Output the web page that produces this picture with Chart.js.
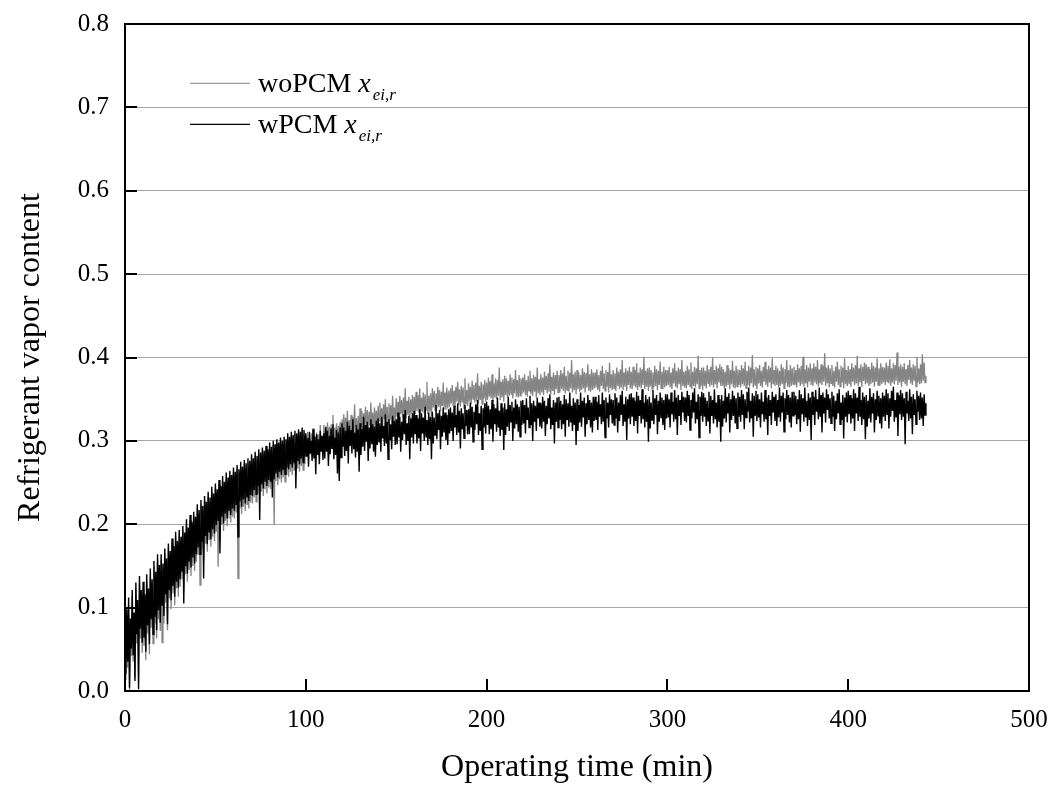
<!DOCTYPE html>
<html>
<head>
<meta charset="utf-8">
<title>Refrigerant vapor content</title>
<script src="https://cdn.jsdelivr.net/npm/chart.js@4.4.1/dist/chart.umd.min.js"></script>
<style>
  html, body { margin: 0; padding: 0; background: #ffffff; }
  #wrap { width: 1056px; height: 787px; }
</style>
</head>
<body>
<div id="wrap"><canvas id="chart" width="1056" height="787"></canvas></div>
<script>
// Sampling interval of the logged vapor content (minutes)
const sampleStepMin = 0.5;

// Refrigerant vapor content at the evaporator inlet, without PCM (one row = 10 min)
const woPCM = [
  0.051, 0.013, 0.088, 0.028, 0.103, 0.000, 0.079, 0.042, 0.114, 0.035, 0.087, 0.016, 0.122, 0.057, 0.101, 0.011, 0.131, 0.063, 0.113, 0.046,
  0.123, 0.054, 0.109, 0.037, 0.133, 0.069, 0.116, 0.044, 0.139, 0.076, 0.126, 0.057, 0.149, 0.081, 0.136, 0.063, 0.156, 0.086, 0.144, 0.072,
  0.157, 0.058, 0.146, 0.081, 0.164, 0.106, 0.153, 0.073, 0.171, 0.111, 0.161, 0.098, 0.178, 0.117, 0.168, 0.103, 0.185, 0.123, 0.175, 0.113,
  0.188, 0.125, 0.180, 0.134, 0.193, 0.119, 0.185, 0.140, 0.200, 0.131, 0.191, 0.145, 0.205, 0.138, 0.197, 0.150, 0.210, 0.144, 0.203, 0.155,
  0.219, 0.163, 0.212, 0.127, 0.224, 0.170, 0.217, 0.156, 0.229, 0.177, 0.222, 0.167, 0.234, 0.182, 0.227, 0.173, 0.239, 0.185, 0.232, 0.180,
  0.244, 0.191, 0.237, 0.149, 0.248, 0.179, 0.241, 0.199, 0.252, 0.192, 0.246, 0.204, 0.256, 0.198, 0.250, 0.207, 0.259, 0.202, 0.254, 0.209,
  0.263, 0.207, 0.258, 0.214, 0.266, 0.135, 0.261, 0.219, 0.269, 0.212, 0.264, 0.221, 0.272, 0.216, 0.267, 0.224, 0.274, 0.219, 0.270, 0.226,
  0.279, 0.225, 0.274, 0.232, 0.282, 0.227, 0.277, 0.237, 0.285, 0.230, 0.281, 0.239, 0.287, 0.234, 0.283, 0.242, 0.289, 0.237, 0.285, 0.244,
  0.293, 0.242, 0.288, 0.249, 0.295, 0.199, 0.291, 0.252, 0.297, 0.247, 0.293, 0.254, 0.299, 0.250, 0.295, 0.256, 0.300, 0.251, 0.297, 0.259,
  0.304, 0.257, 0.300, 0.263, 0.306, 0.259, 0.302, 0.265, 0.308, 0.260, 0.304, 0.267, 0.310, 0.263, 0.306, 0.270, 0.312, 0.265, 0.309, 0.272,
  0.307, 0.289, 0.311, 0.286, 0.304, 0.284, 0.309, 0.291, 0.315, 0.287, 0.306, 0.285, 0.310, 0.290, 0.308, 0.283, 0.319, 0.288, 0.305, 0.286,
  0.319, 0.297, 0.315, 0.294, 0.322, 0.300, 0.317, 0.296, 0.320, 0.298, 0.331, 0.295, 0.316, 0.299, 0.321, 0.294, 0.318, 0.301, 0.323, 0.297,
  0.326, 0.305, 0.332, 0.309, 0.328, 0.307, 0.336, 0.304, 0.325, 0.308, 0.331, 0.306, 0.329, 0.310, 0.344, 0.305, 0.327, 0.308, 0.330, 0.303,
  0.339, 0.316, 0.336, 0.313, 0.333, 0.315, 0.341, 0.317, 0.337, 0.312, 0.335, 0.318, 0.346, 0.314, 0.334, 0.313, 0.340, 0.315, 0.336, 0.317,
  0.342, 0.324, 0.346, 0.321, 0.339, 0.319, 0.344, 0.326, 0.350, 0.322, 0.341, 0.320, 0.345, 0.325, 0.343, 0.318, 0.354, 0.323, 0.340, 0.321,
  0.351, 0.329, 0.347, 0.326, 0.354, 0.332, 0.349, 0.328, 0.352, 0.330, 0.363, 0.327, 0.348, 0.331, 0.353, 0.326, 0.350, 0.333, 0.355, 0.329,
  0.353, 0.332, 0.359, 0.336, 0.355, 0.334, 0.363, 0.331, 0.352, 0.335, 0.358, 0.333, 0.356, 0.337, 0.371, 0.332, 0.354, 0.335, 0.357, 0.330,
  0.363, 0.340, 0.360, 0.337, 0.357, 0.339, 0.365, 0.341, 0.361, 0.336, 0.359, 0.342, 0.370, 0.338, 0.358, 0.337, 0.364, 0.339, 0.360, 0.341,
  0.363, 0.345, 0.367, 0.342, 0.360, 0.340, 0.365, 0.347, 0.371, 0.343, 0.362, 0.341, 0.366, 0.346, 0.364, 0.339, 0.375, 0.344, 0.361, 0.342,
  0.369, 0.347, 0.365, 0.344, 0.372, 0.350, 0.367, 0.346, 0.370, 0.348, 0.381, 0.345, 0.366, 0.349, 0.371, 0.344, 0.368, 0.351, 0.373, 0.347,
  0.370, 0.349, 0.376, 0.353, 0.372, 0.351, 0.380, 0.348, 0.369, 0.352, 0.375, 0.350, 0.373, 0.354, 0.388, 0.349, 0.371, 0.352, 0.374, 0.347,
  0.378, 0.355, 0.375, 0.352, 0.372, 0.354, 0.380, 0.356, 0.376, 0.351, 0.374, 0.357, 0.385, 0.353, 0.373, 0.352, 0.379, 0.354, 0.375, 0.356,
  0.376, 0.358, 0.380, 0.355, 0.373, 0.353, 0.378, 0.360, 0.384, 0.356, 0.375, 0.354, 0.379, 0.359, 0.377, 0.352, 0.388, 0.357, 0.374, 0.355,
  0.380, 0.358, 0.376, 0.355, 0.383, 0.361, 0.378, 0.357, 0.381, 0.359, 0.392, 0.356, 0.377, 0.360, 0.382, 0.355, 0.379, 0.362, 0.384, 0.358,
  0.379, 0.358, 0.385, 0.362, 0.381, 0.360, 0.389, 0.357, 0.378, 0.361, 0.384, 0.359, 0.382, 0.363, 0.397, 0.358, 0.380, 0.361, 0.383, 0.356,
  0.385, 0.362, 0.382, 0.359, 0.379, 0.361, 0.387, 0.363, 0.383, 0.358, 0.381, 0.364, 0.392, 0.360, 0.380, 0.359, 0.386, 0.361, 0.382, 0.363,
  0.382, 0.364, 0.386, 0.361, 0.379, 0.359, 0.384, 0.366, 0.390, 0.362, 0.381, 0.360, 0.385, 0.365, 0.383, 0.358, 0.394, 0.363, 0.380, 0.361,
  0.385, 0.363, 0.381, 0.360, 0.388, 0.366, 0.383, 0.362, 0.386, 0.364, 0.397, 0.361, 0.382, 0.365, 0.387, 0.360, 0.384, 0.367, 0.389, 0.363,
  0.383, 0.362, 0.389, 0.366, 0.385, 0.364, 0.393, 0.361, 0.382, 0.365, 0.388, 0.363, 0.386, 0.367, 0.401, 0.362, 0.384, 0.365, 0.387, 0.360,
  0.388, 0.365, 0.385, 0.362, 0.382, 0.364, 0.390, 0.366, 0.386, 0.361, 0.384, 0.367, 0.395, 0.363, 0.383, 0.362, 0.389, 0.364, 0.385, 0.366,
  0.385, 0.367, 0.389, 0.364, 0.382, 0.362, 0.387, 0.369, 0.393, 0.365, 0.384, 0.363, 0.388, 0.368, 0.386, 0.361, 0.397, 0.366, 0.383, 0.364,
  0.384, 0.363, 0.390, 0.367, 0.386, 0.365, 0.394, 0.362, 0.383, 0.366, 0.389, 0.364, 0.387, 0.368, 0.402, 0.363, 0.385, 0.366, 0.388, 0.361,
  0.388, 0.366, 0.384, 0.363, 0.391, 0.369, 0.386, 0.365, 0.389, 0.367, 0.400, 0.364, 0.385, 0.368, 0.390, 0.363, 0.387, 0.370, 0.392, 0.366,
  0.389, 0.366, 0.386, 0.363, 0.383, 0.365, 0.391, 0.367, 0.387, 0.362, 0.385, 0.368, 0.396, 0.364, 0.384, 0.363, 0.390, 0.365, 0.386, 0.367,
  0.385, 0.364, 0.391, 0.368, 0.387, 0.366, 0.395, 0.363, 0.384, 0.367, 0.390, 0.365, 0.388, 0.369, 0.403, 0.364, 0.386, 0.367, 0.389, 0.362,
  0.387, 0.369, 0.391, 0.366, 0.384, 0.364, 0.389, 0.371, 0.395, 0.367, 0.386, 0.365, 0.390, 0.370, 0.388, 0.363, 0.399, 0.368, 0.385, 0.366,
  0.390, 0.367, 0.387, 0.364, 0.384, 0.366, 0.392, 0.368, 0.388, 0.363, 0.386, 0.369, 0.397, 0.365, 0.385, 0.364, 0.391, 0.366, 0.387, 0.368,
  0.389, 0.367, 0.385, 0.364, 0.392, 0.370, 0.387, 0.366, 0.390, 0.368, 0.401, 0.365, 0.386, 0.369, 0.391, 0.364, 0.388, 0.371, 0.393, 0.367,
  0.387, 0.366, 0.393, 0.370, 0.389, 0.368, 0.397, 0.365, 0.386, 0.369, 0.392, 0.367, 0.390, 0.371, 0.405, 0.366, 0.388, 0.369, 0.391, 0.364,
  0.387, 0.369, 0.391, 0.366, 0.384, 0.364, 0.389, 0.371, 0.395, 0.367, 0.386, 0.365, 0.390, 0.370, 0.388, 0.363, 0.399, 0.368, 0.385, 0.366,
  0.390, 0.368, 0.386, 0.365, 0.393, 0.371, 0.388, 0.367, 0.391, 0.369, 0.402, 0.366, 0.387, 0.370, 0.392, 0.365, 0.389, 0.372, 0.394, 0.368,
  0.392, 0.369, 0.389, 0.366, 0.386, 0.368, 0.394, 0.370, 0.390, 0.365, 0.388, 0.371, 0.399, 0.367, 0.387, 0.366, 0.393, 0.368, 0.389, 0.370,
  0.388, 0.367, 0.394, 0.371, 0.390, 0.369, 0.398, 0.366, 0.387, 0.370, 0.393, 0.368, 0.391, 0.372, 0.406, 0.367, 0.389, 0.370, 0.392, 0.365,
  0.389, 0.371, 0.393, 0.368, 0.386, 0.366, 0.391, 0.373, 0.397, 0.369, 0.388, 0.367, 0.392, 0.372, 0.390, 0.365, 0.401, 0.370, 0.387, 0.368,
  0.392, 0.369, 0.404, 0.372, 0.394, 0.370, 0.378
];

// Refrigerant vapor content at the evaporator inlet, with PCM (one row = 10 min)
const wPCM = [
  0.062, 0.021, 0.098, 0.035, 0.112, 0.004, 0.087, 0.051, 0.121, 0.043, 0.094, 0.012, 0.130, 0.068, 0.109, 0.002, 0.138, 0.075, 0.121, 0.058,
  0.131, 0.064, 0.116, 0.047, 0.140, 0.079, 0.123, 0.056, 0.147, 0.086, 0.134, 0.068, 0.156, 0.089, 0.143, 0.073, 0.164, 0.097, 0.151, 0.082,
  0.164, 0.103, 0.153, 0.090, 0.171, 0.116, 0.159, 0.080, 0.177, 0.121, 0.168, 0.109, 0.183, 0.126, 0.174, 0.113, 0.191, 0.131, 0.180, 0.124,
  0.193, 0.134, 0.185, 0.143, 0.198, 0.105, 0.190, 0.150, 0.206, 0.141, 0.196, 0.155, 0.211, 0.148, 0.203, 0.160, 0.215, 0.153, 0.209, 0.164,
  0.224, 0.172, 0.217, 0.164, 0.229, 0.179, 0.222, 0.135, 0.234, 0.186, 0.227, 0.176, 0.239, 0.191, 0.232, 0.182, 0.245, 0.194, 0.237, 0.189,
  0.249, 0.199, 0.242, 0.204, 0.253, 0.165, 0.246, 0.209, 0.258, 0.201, 0.251, 0.213, 0.262, 0.207, 0.256, 0.216, 0.264, 0.211, 0.259, 0.219,
  0.268, 0.216, 0.263, 0.223, 0.271, 0.185, 0.266, 0.228, 0.275, 0.221, 0.269, 0.230, 0.277, 0.225, 0.273, 0.233, 0.279, 0.228, 0.276, 0.235,
  0.284, 0.234, 0.279, 0.241, 0.287, 0.236, 0.282, 0.246, 0.290, 0.205, 0.286, 0.248, 0.292, 0.243, 0.288, 0.251, 0.294, 0.246, 0.290, 0.253,
  0.298, 0.251, 0.293, 0.232, 0.300, 0.254, 0.296, 0.261, 0.302, 0.256, 0.298, 0.263, 0.304, 0.259, 0.300, 0.265, 0.305, 0.260, 0.302, 0.268,
  0.309, 0.266, 0.305, 0.272, 0.311, 0.268, 0.307, 0.274, 0.312, 0.243, 0.309, 0.276, 0.314, 0.272, 0.311, 0.279, 0.316, 0.274, 0.313, 0.281,
  0.309, 0.281, 0.303, 0.269, 0.311, 0.285, 0.300, 0.276, 0.314, 0.279, 0.305, 0.260, 0.308, 0.283, 0.302, 0.272, 0.312, 0.287, 0.306, 0.277,
  0.309, 0.279, 0.317, 0.287, 0.312, 0.270, 0.306, 0.284, 0.315, 0.291, 0.320, 0.278, 0.304, 0.283, 0.313, 0.261, 0.310, 0.252, 0.316, 0.280,
  0.321, 0.293, 0.316, 0.282, 0.312, 0.288, 0.323, 0.273, 0.318, 0.294, 0.313, 0.285, 0.326, 0.290, 0.310, 0.280, 0.319, 0.287, 0.314, 0.263,
  0.321, 0.283, 0.314, 0.293, 0.329, 0.288, 0.319, 0.299, 0.323, 0.276, 0.316, 0.291, 0.326, 0.296, 0.320, 0.287, 0.317, 0.281, 0.324, 0.295,
  0.327, 0.299, 0.321, 0.287, 0.329, 0.303, 0.318, 0.294, 0.332, 0.297, 0.323, 0.278, 0.326, 0.301, 0.320, 0.290, 0.330, 0.305, 0.324, 0.295,
  0.326, 0.296, 0.334, 0.304, 0.329, 0.287, 0.323, 0.301, 0.332, 0.308, 0.337, 0.295, 0.321, 0.300, 0.330, 0.278, 0.327, 0.304, 0.333, 0.297,
  0.336, 0.308, 0.331, 0.297, 0.327, 0.303, 0.338, 0.288, 0.333, 0.309, 0.328, 0.300, 0.341, 0.305, 0.325, 0.295, 0.334, 0.302, 0.329, 0.278,
  0.335, 0.297, 0.328, 0.307, 0.343, 0.302, 0.333, 0.313, 0.337, 0.290, 0.330, 0.305, 0.340, 0.310, 0.334, 0.301, 0.331, 0.295, 0.338, 0.309,
  0.340, 0.312, 0.334, 0.300, 0.342, 0.316, 0.331, 0.307, 0.345, 0.310, 0.336, 0.291, 0.339, 0.314, 0.333, 0.303, 0.343, 0.318, 0.337, 0.308,
  0.338, 0.308, 0.346, 0.316, 0.341, 0.299, 0.335, 0.313, 0.344, 0.320, 0.349, 0.307, 0.333, 0.312, 0.342, 0.290, 0.339, 0.316, 0.345, 0.309,
  0.347, 0.319, 0.342, 0.308, 0.338, 0.314, 0.349, 0.299, 0.344, 0.320, 0.339, 0.311, 0.352, 0.316, 0.336, 0.306, 0.345, 0.313, 0.340, 0.289,
  0.345, 0.307, 0.338, 0.317, 0.353, 0.312, 0.343, 0.323, 0.347, 0.300, 0.340, 0.315, 0.350, 0.320, 0.344, 0.311, 0.341, 0.305, 0.348, 0.319,
  0.349, 0.321, 0.343, 0.309, 0.351, 0.325, 0.340, 0.316, 0.354, 0.319, 0.345, 0.300, 0.348, 0.323, 0.342, 0.312, 0.352, 0.327, 0.346, 0.317,
  0.345, 0.315, 0.353, 0.323, 0.348, 0.306, 0.342, 0.320, 0.351, 0.327, 0.356, 0.314, 0.340, 0.319, 0.349, 0.297, 0.346, 0.323, 0.352, 0.316,
  0.353, 0.325, 0.348, 0.314, 0.344, 0.320, 0.355, 0.305, 0.350, 0.326, 0.345, 0.317, 0.358, 0.322, 0.342, 0.312, 0.351, 0.319, 0.346, 0.295,
  0.350, 0.312, 0.343, 0.322, 0.358, 0.317, 0.348, 0.328, 0.352, 0.305, 0.345, 0.320, 0.355, 0.325, 0.349, 0.316, 0.346, 0.310, 0.353, 0.324,
  0.353, 0.325, 0.347, 0.313, 0.355, 0.329, 0.344, 0.320, 0.358, 0.323, 0.349, 0.304, 0.352, 0.327, 0.346, 0.316, 0.356, 0.331, 0.350, 0.321,
  0.349, 0.319, 0.357, 0.327, 0.352, 0.310, 0.346, 0.324, 0.355, 0.331, 0.360, 0.318, 0.344, 0.323, 0.353, 0.301, 0.350, 0.327, 0.356, 0.320,
  0.357, 0.329, 0.352, 0.318, 0.348, 0.324, 0.359, 0.309, 0.354, 0.330, 0.349, 0.321, 0.362, 0.326, 0.346, 0.316, 0.355, 0.323, 0.350, 0.299,
  0.353, 0.315, 0.346, 0.325, 0.361, 0.320, 0.351, 0.331, 0.355, 0.308, 0.348, 0.323, 0.358, 0.328, 0.352, 0.319, 0.349, 0.313, 0.356, 0.327,
  0.356, 0.328, 0.350, 0.316, 0.358, 0.332, 0.347, 0.323, 0.361, 0.326, 0.352, 0.307, 0.355, 0.330, 0.349, 0.319, 0.359, 0.334, 0.353, 0.324,
  0.352, 0.322, 0.360, 0.330, 0.355, 0.313, 0.349, 0.327, 0.358, 0.334, 0.363, 0.321, 0.347, 0.326, 0.356, 0.304, 0.353, 0.330, 0.359, 0.323,
  0.357, 0.329, 0.352, 0.318, 0.348, 0.324, 0.359, 0.309, 0.354, 0.330, 0.349, 0.321, 0.362, 0.326, 0.346, 0.316, 0.355, 0.323, 0.350, 0.299,
  0.355, 0.317, 0.348, 0.327, 0.363, 0.322, 0.353, 0.333, 0.357, 0.310, 0.350, 0.325, 0.360, 0.330, 0.354, 0.321, 0.351, 0.315, 0.358, 0.329,
  0.353, 0.323, 0.361, 0.331, 0.356, 0.314, 0.350, 0.328, 0.359, 0.335, 0.364, 0.322, 0.348, 0.327, 0.357, 0.305, 0.354, 0.331, 0.360, 0.324,
  0.356, 0.328, 0.350, 0.316, 0.358, 0.332, 0.347, 0.323, 0.361, 0.326, 0.352, 0.307, 0.355, 0.330, 0.349, 0.319, 0.359, 0.334, 0.353, 0.324,
  0.356, 0.318, 0.349, 0.328, 0.364, 0.323, 0.354, 0.334, 0.358, 0.311, 0.351, 0.326, 0.361, 0.331, 0.355, 0.322, 0.352, 0.316, 0.359, 0.330,
  0.359, 0.331, 0.354, 0.320, 0.350, 0.326, 0.361, 0.311, 0.356, 0.332, 0.351, 0.323, 0.364, 0.328, 0.348, 0.318, 0.357, 0.325, 0.352, 0.301,
  0.359, 0.331, 0.353, 0.319, 0.361, 0.335, 0.350, 0.326, 0.364, 0.329, 0.355, 0.310, 0.358, 0.333, 0.352, 0.322, 0.362, 0.337, 0.356, 0.327,
  0.351, 0.321, 0.359, 0.329, 0.354, 0.312, 0.348, 0.326, 0.357, 0.333, 0.362, 0.320, 0.346, 0.325, 0.355, 0.303, 0.352, 0.329, 0.358, 0.322,
  0.360, 0.332, 0.355, 0.321, 0.351, 0.327, 0.362, 0.312, 0.357, 0.333, 0.352, 0.324, 0.365, 0.329, 0.349, 0.319, 0.358, 0.326, 0.353, 0.302,
  0.355, 0.317, 0.348, 0.327, 0.363, 0.322, 0.353, 0.333, 0.357, 0.310, 0.350, 0.325, 0.360, 0.330, 0.354, 0.321, 0.351, 0.315, 0.358, 0.329,
  0.354, 0.324, 0.362, 0.332, 0.357, 0.315, 0.351, 0.329, 0.360, 0.336, 0.365, 0.323, 0.349, 0.328, 0.358, 0.306, 0.355, 0.332, 0.361, 0.325,
  0.357, 0.329, 0.351, 0.296, 0.359, 0.333, 0.348, 0.324, 0.362, 0.327, 0.353, 0.308, 0.356, 0.331, 0.350, 0.320, 0.360, 0.335, 0.354, 0.325,
  0.358, 0.327, 0.352, 0.318, 0.356, 0.331, 0.345
];

// Axis ticks
const xTickValues = [0, 100, 200, 300, 400, 500];
const yTickValues = [0.0, 0.1, 0.2, 0.3, 0.4, 0.5, 0.6, 0.7, 0.8];

// Series labels (name, variable, subscript)
const seriesNames = ['woPCM', 'wPCM'];
const seriesVar = 'x';
const seriesSub = 'ei,r';

const SERIF = '"Liberation Serif", "Times New Roman", serif';
const GRAY = '#858585';
const BLACK = '#000000';

const toPoints = arr => arr.map((v, i) => ({ x: i * sampleStepMin, y: v }));

// Closed black frame, inward tick marks and the in-plot legend
const framePlugin = {
  id: 'frameAndLegend',
  afterDatasetsDraw(chart) {
    const { ctx, chartArea: a, scales } = chart;
    ctx.save();
    ctx.strokeStyle = '#000';
    ctx.lineWidth = 2;
    ctx.beginPath();
    const tickLen = 12;
    yTickValues.forEach(v => {
      const y = Math.round(scales.y.getPixelForValue(v));
      if (y > a.top + 1 && y < a.bottom - 1) {
        ctx.moveTo(a.left, y);
        ctx.lineTo(a.left + tickLen, y);
      }
    });
    xTickValues.forEach(v => {
      const x = Math.round(scales.x.getPixelForValue(v));
      if (x > a.left + 1 && x < a.right - 1) {
        ctx.moveTo(x, a.bottom);
        ctx.lineTo(x, a.bottom - tickLen);
      }
    });
    ctx.stroke();
    ctx.strokeRect(a.left, a.top, a.right - a.left, a.bottom - a.top);

    // legend
    const colors = ['#9a9a9a', BLACK];
    const lx = a.left + 65, lineLen = 60, gap = 8;
    const y07 = scales.y.getPixelForValue(0.7);
    const rowY = [y07 - 24, y07 + 17];
    seriesNames.forEach((name, i) => {
      const y = rowY[i];
      ctx.strokeStyle = colors[i];
      ctx.lineWidth = 1.2;
      ctx.beginPath();
      ctx.moveTo(lx, y);
      ctx.lineTo(lx + lineLen, y);
      ctx.stroke();
      ctx.fillStyle = '#000';
      ctx.textBaseline = 'alphabetic';
      ctx.textAlign = 'left';
      let tx = lx + lineLen + gap;
      const base = y + 9;
      ctx.font = '28px ' + SERIF;
      ctx.fillText(name + ' ', tx, base);
      tx += ctx.measureText(name + ' ').width;
      ctx.font = 'italic 28px ' + SERIF;
      ctx.fillText(seriesVar, tx, base);
      tx += ctx.measureText(seriesVar).width + 2;
      ctx.font = 'italic 17px ' + SERIF;
      ctx.fillText(seriesSub, tx, base + 8);
    });
    ctx.restore();
  }
};

new Chart(document.getElementById('chart'), {
  type: 'line',
  data: {
    datasets: [
      // woPCM sits underneath, wPCM is drawn over it
      { label: seriesNames[0], data: toPoints(woPCM), borderColor: GRAY, borderWidth: 1.3, pointRadius: 0, tension: 0, order: 2 },
      { label: seriesNames[1], data: toPoints(wPCM), borderColor: BLACK, borderWidth: 1.4, pointRadius: 0, tension: 0, order: 1 }
    ]
  },
  options: {
    responsive: false,
    animation: false,
    devicePixelRatio: 1,
    layout: { padding: { top: 24, right: 27, left: 0, bottom: 0 } },
    plugins: { legend: { display: false }, tooltip: { enabled: false } },
    scales: {
      x: {
        type: 'linear',
        min: 0,
        max: 500,
        afterBuildTicks: s => { s.ticks = xTickValues.map(v => ({ value: v })); },
        afterFit: s => { s.height = 96; s.paddingLeft = 0; s.paddingRight = 0; },
        grid: { display: false, drawTicks: false },
        border: { display: false },
        ticks: { color: '#000', padding: 14, font: { family: SERIF, size: 25 }, maxRotation: 0 },
        title: { display: true, text: 'Operating time (min)', color: '#000', font: { family: SERIF, size: 32 }, padding: { top: 0, bottom: 0 } }
      },
      y: {
        min: 0,
        max: 0.8,
        afterBuildTicks: s => { s.ticks = yTickValues.map(v => ({ value: v })); },
        afterFit: s => { s.width = 125; s.paddingTop = 0; s.paddingBottom = 0; },
        grid: { color: '#a6a6a6', lineWidth: 1, drawTicks: false },
        border: { display: false },
        ticks: { color: '#000', padding: 16, font: { family: SERIF, size: 25 }, callback: v => Number(v).toFixed(1) },
        title: { display: true, text: 'Refrigerant vapor content', color: '#000', font: { family: SERIF, size: 32 }, padding: { top: 11, bottom: 0 } }
      }
    }
  },
  plugins: [framePlugin]
});
</script>
</body>
</html>
